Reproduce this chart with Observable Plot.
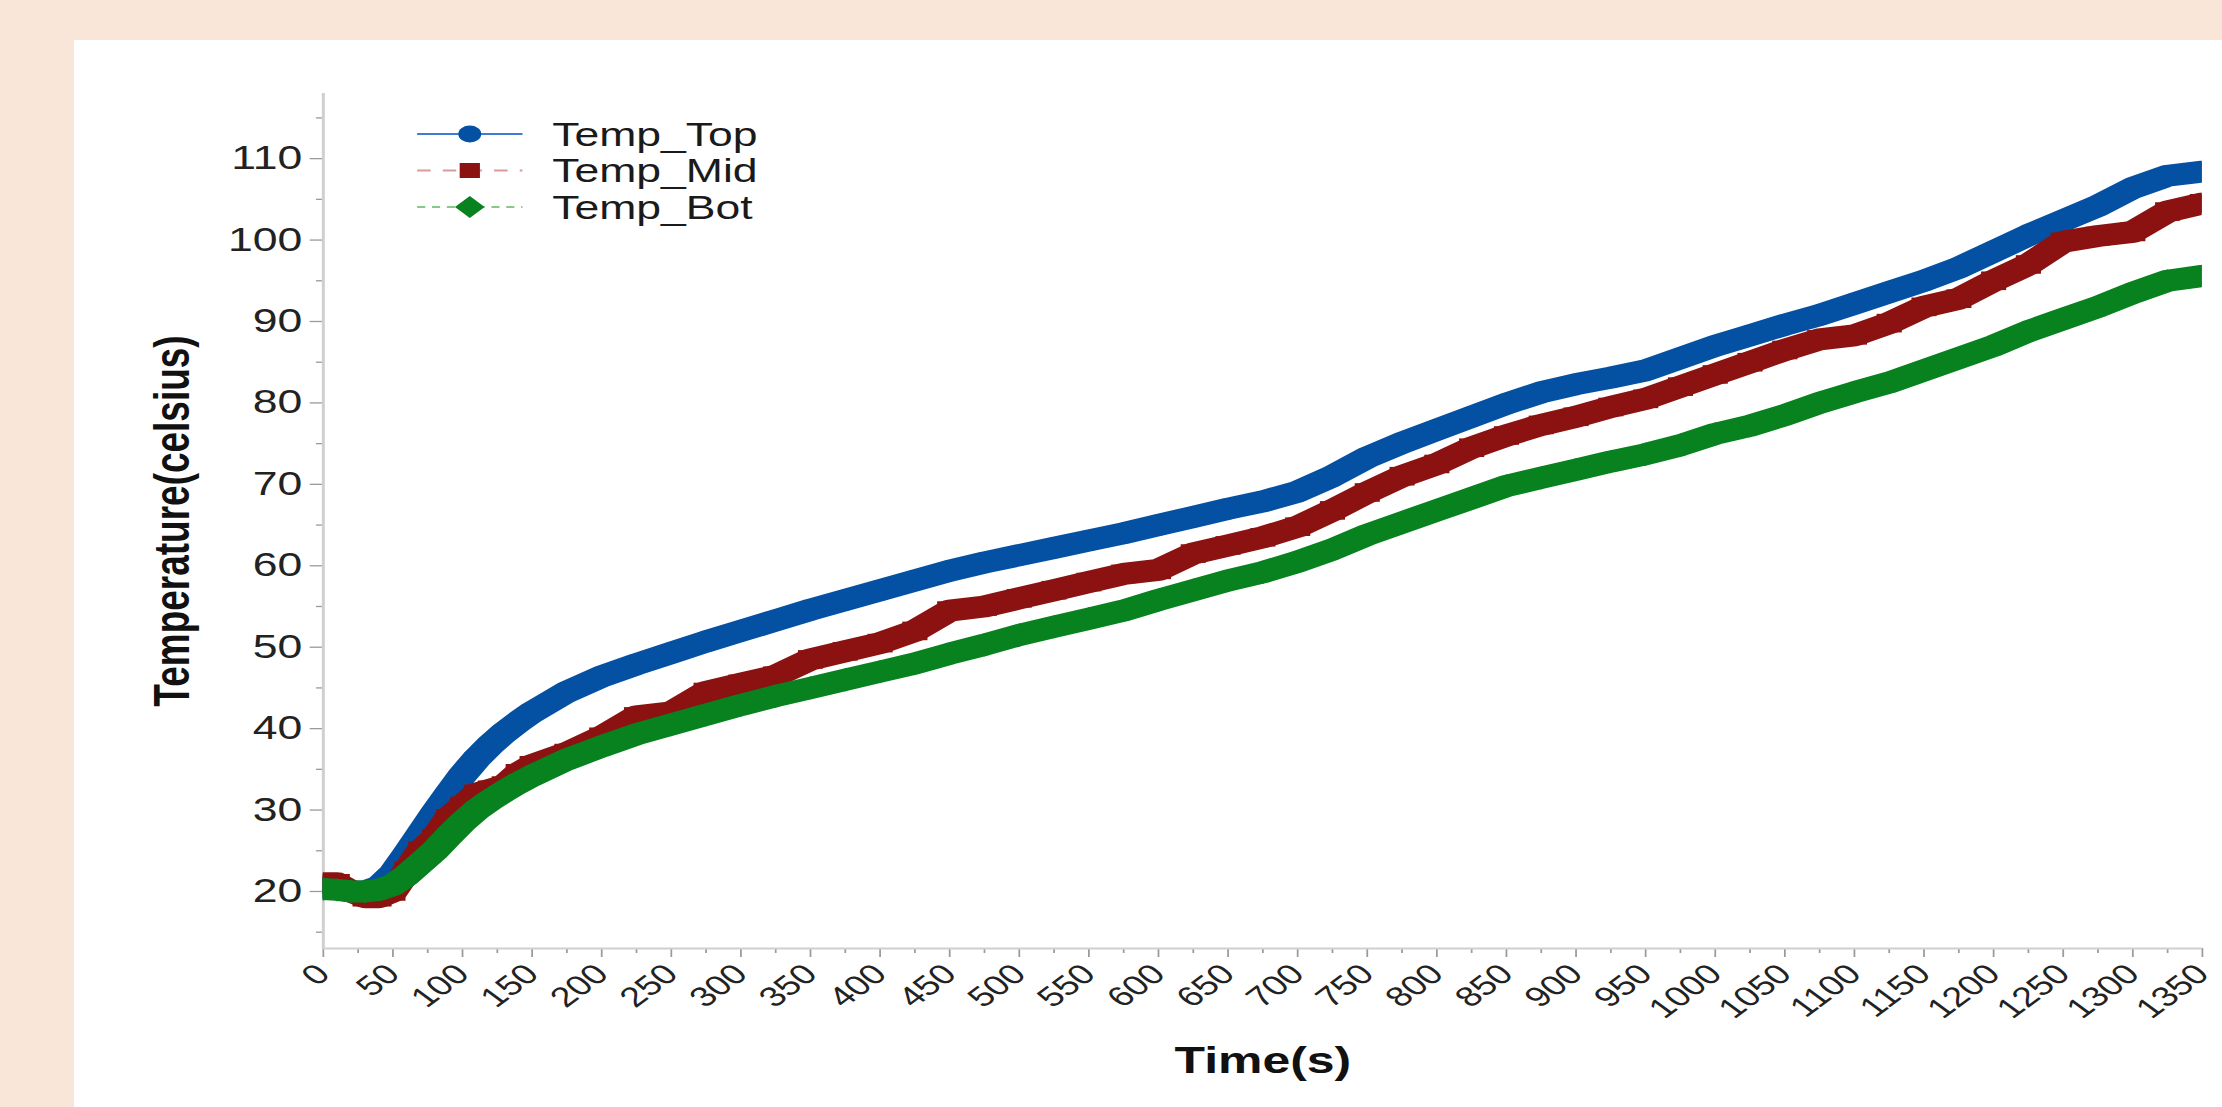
<!DOCTYPE html>
<html>
<head>
<meta charset="utf-8">
<script src="https://cdn.jsdelivr.net/npm/d3@7"></script>
<script src="https://cdn.jsdelivr.net/npm/@observablehq/plot@0.6"></script>
<style>
html, body { margin: 0; padding: 0; background: #FAE6D8; width: 2222px; height: 1107px; overflow: hidden; }
#panel { position: absolute; left: 74px; top: 40px; right: 0; bottom: 0; background: #ffffff; }
#stage { position: absolute; left: 0; top: 0; width: 1646px; height: 1107px; transform: scaleX(1.35); transform-origin: 0 0; }
#stage svg { position: absolute; left: 0; top: 0; }
</style>
</head>
<body>
<div id="panel"></div>
<div id="stage"></div>
<script>
// ---- data ----
const times = [0,10,20,30,40,50,60,70,80,90,100,110,120,130,140,150,
  175,200,225,250,275,300,325,350,375,400,425,450,475,500,525,550,575,600,625,650,675,700,
  725,750,775,800,825,850,875,900,925,950,975,1000,1025,1050,1075,1100,1125,1150,1175,1200,
  1225,1250,1275,1300,1325,1350];

const tempTop = [20.5,20.3,20.0,20.0,20.6,22.2,24.6,27.1,29.6,32.0,34.3,36.3,38.0,39.5,40.8,42.0,
  44.5,46.4,47.9,49.3,50.7,52.0,53.3,54.6,55.8,57.0,58.2,59.4,60.4,61.3,62.2,63.1,64.0,65.0,66.0,67.0,67.9,69.1,
  71.0,73.3,75.1,76.7,78.3,79.9,81.3,82.3,83.1,84.0,85.5,87.0,88.3,89.6,90.8,92.2,93.6,95.0,96.6,98.6,
  100.6,102.4,104.2,106.4,107.9,108.4];

const tempMid = [21.0,21.0,20.0,19.3,19.3,20.0,22.5,25.0,26.5,29.0,30.5,32.0,32.5,33.0,34.5,35.5,
  37.0,39.0,41.5,42.0,44.5,45.5,46.5,48.5,49.5,50.5,52.0,54.5,55.0,56.0,57.0,58.0,59.0,59.5,61.5,62.5,63.5,64.8,
  66.8,69.0,71.0,72.5,74.5,76.0,77.3,78.3,79.5,80.5,82.0,83.5,85.0,86.5,87.8,88.3,89.8,91.8,92.8,95.0,
  97.0,99.8,100.5,101.0,103.5,104.5];

const tempBot = [20.3,20.2,20.0,20.0,20.2,20.8,22.0,23.5,25.0,26.8,28.5,30.0,31.2,32.3,33.3,34.2,
  36.2,37.8,39.3,40.5,41.7,42.9,44.0,45.0,46.0,47.0,48.0,49.2,50.3,51.5,52.5,53.5,54.5,55.8,57.0,58.2,59.2,60.5,
  62.0,63.8,65.3,66.8,68.3,69.8,70.8,71.8,72.8,73.7,74.8,76.2,77.2,78.5,80.0,81.3,82.5,84.0,85.5,87.0,
  88.8,90.3,91.8,93.5,95.0,95.6];

const seriesNames = ["Temp_Top", "Temp_Mid", "Temp_Bot"];
const seriesValues = [tempTop, tempMid, tempBot];
const xTicks = d3.range(0, 1351, 50);
const xMinorTicks = d3.range(25, 1350, 50);
const yTicks = [20, 30, 40, 50, 60, 70, 80, 90, 100, 110];
const yMinorTicks = [15, 25, 35, 45, 55, 65, 75, 85, 95, 105, 115];

// ---- styles ----
const seriesColors = ["#0451a3", "#8c1212", "#07821f"];
const legendLineColors = ["#3f7ad6", "#d99a9a", "#88c888"];
const legendDash = [null, "10,9", "6,5"];
const seriesSymbols = ["circle", "square", "diamond2"];
const FONT = "'Liberation Sans', Arial, Helvetica, sans-serif";
const SX = 1.35;
const W = 2222 / SX;
const H = 1107;

const rows = seriesNames.map((name, i) =>
  times.map((t, j) => ({t, v: seriesValues[i][j], series: name})));

const dataMarks = [];
rows.forEach((r, i) => {
  dataMarks.push(Plot.line(r, {x: "t", y: "v", stroke: seriesColors[i], strokeWidth: 22,
    strokeLinejoin: "round", clip: true}));
  dataMarks.push(Plot.dot(r, {x: "t", y: "v", symbol: seriesSymbols[i], r: 10.5,
    fill: seriesColors[i], stroke: "none", clip: true}));
});

const chart = Plot.plot({
  width: W,
  height: H,
  marginLeft: 239,
  marginRight: 15,
  marginTop: 93,
  marginBottom: 159,
  style: {background: "transparent", fontFamily: FONT, color: "#222", overflow: "visible"},
  x: {domain: [0, 1350]},
  y: {domain: [13, 118]},
  marks: [
    Plot.axisY(yMinorTicks, {tickSize: 5, tickFormat: () => "", stroke: "#9a9a9a", strokeWidth: 1.3, label: null}),
    Plot.axisY(yTicks, {tickSize: 9.6, tickPadding: 6, fontSize: 33, fill: "#222", stroke: "#9a9a9a", strokeWidth: 1.3, label: null}),
    Plot.axisY({ticks: [], tickSize: 0, label: "Temperature(celsius)", labelAnchor: "center", labelArrow: "none",
      labelOffset: 126, fontSize: 37, fontWeight: "bold", fill: "#111"}),
    Plot.axisX(xMinorTicks, {tickSize: 5, tickFormat: () => "", stroke: "#9a9a9a", strokeWidth: 1.3, label: null}),
    Plot.axisX(xTicks, {tickSize: 9, tickPadding: 12, tickRotate: -45, tickFormat: d => String(d), fontSize: 28, fill: "#222", stroke: "#9a9a9a", strokeWidth: 1.3, label: null}),
    Plot.axisX({ticks: [], tickSize: 0, label: "Time(s)", labelAnchor: "center", labelArrow: "none",
      labelOffset: 125, fontSize: 37, fontWeight: "bold", fill: "#111"}),
    Plot.ruleX([0], {stroke: "#cfcfcf", strokeWidth: 2.2}),
    Plot.ruleY([13], {stroke: "#cfcfcf", strokeWidth: 2.2}),
    ...dataMarks
  ]
});
document.getElementById("stage").appendChild(chart);

// ---- legend (inside plot area, top-left) ----
const leg = d3.select("#stage").append("svg")
  .attr("width", W).attr("height", H)
  .style("position", "absolute").style("left", "0px").style("top", "0px")
  .style("overflow", "visible");
const legX0 = 309, legX1 = 387, legXc = 348, legTextX = 409, legY0 = 134, legDY = 36.5;
seriesNames.forEach((name, i) => {
  const y = legY0 + i * legDY;
  const g = leg.append("g");
  g.append("line").attr("x1", legX0).attr("x2", legX1).attr("y1", y).attr("y2", y)
    .attr("stroke", legendLineColors[i]).attr("stroke-width", 2)
    .attr("stroke-dasharray", legendDash[i]);
  if (seriesSymbols[i] === "circle") {
    g.append("circle").attr("cx", legXc).attr("cy", y).attr("r", 8.5).attr("fill", seriesColors[i]);
  } else if (seriesSymbols[i] === "square") {
    g.append("rect").attr("x", legXc - 7.5).attr("y", y - 7.5).attr("width", 15).attr("height", 15).attr("fill", seriesColors[i]);
  } else {
    g.append("path").attr("d", `M${legXc},${y - 11}L${legXc + 11},${y}L${legXc},${y + 11}L${legXc - 11},${y}Z`).attr("fill", seriesColors[i]);
  }
  g.append("text").attr("x", legTextX).attr("y", y).attr("dy", "0.35em")
    .attr("font-family", FONT).attr("font-size", 33).attr("fill", "#1a1a1a").text(name);
});
</script>
</body>
</html>
